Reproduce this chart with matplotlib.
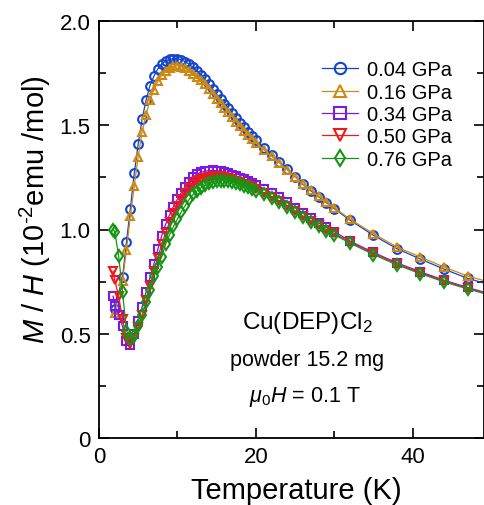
import matplotlib
matplotlib.use('Agg')
import matplotlib.pyplot as plt
from matplotlib.ticker import MultipleLocator, FuncFormatter

plt.rcParams['font.family'] = ['Liberation Sans', 'DejaVu Sans']
plt.rcParams['mathtext.fontset'] = 'custom'
plt.rcParams['mathtext.rm'] = 'Liberation Sans'
plt.rcParams['mathtext.it'] = 'Liberation Sans:italic'

# temperatures (K)
T_hi = [2.0, 3.0, 3.5,
        4.0, 4.5, 5.0, 5.5, 6.0, 6.5, 7.0, 7.5, 8.0, 8.5, 9.0, 9.5, 10.0, 10.5, 11.0, 11.5,
        12.0, 12.5, 13.0, 13.5, 14.0, 14.5, 15.0, 15.5, 16.0, 16.5, 17.0, 17.5, 18.0, 18.5,
        19.0, 19.5, 20.0, 21, 22, 23, 24, 25, 26, 27, 28, 29, 30, 32, 35, 38, 41, 44, 47, 50]
T_lo = [1.8, 2.0, 2.5, 3.0, 3.5,
        4.0, 4.5, 5.0, 5.5, 6.0, 6.5, 7.0, 7.5, 8.0, 8.5, 9.0, 9.5, 10.0, 10.5, 11.0, 11.5,
        12.0, 12.5, 13.0, 13.5, 14.0, 14.5, 15.0, 15.5, 16.0, 16.5, 17.0, 17.5, 18.0, 18.5,
        19.0, 19.5, 20.0, 21, 22, 23, 24, 25, 26, 27, 28, 29, 30, 32, 35, 38, 41, 44, 47, 50]

# M/H (10^-2 emu/mol)
mh_004 = [0.62, 0.77, 0.94,
          1.10, 1.27, 1.41, 1.53, 1.62, 1.69, 1.735, 1.77, 1.795, 1.808, 1.816, 1.82, 1.82,
          1.814, 1.805, 1.792, 1.777, 1.76, 1.741, 1.72, 1.696, 1.672, 1.648, 1.626, 1.604,
          1.581, 1.558, 1.535, 1.512, 1.49, 1.469, 1.448, 1.427,
          1.392, 1.358, 1.324, 1.29, 1.254, 1.216, 1.186, 1.157, 1.129, 1.10,
          1.045, 0.972, 0.908, 0.858, 0.81, 0.766, 0.733]
mh_016 = [0.60, 0.755, 0.90,
          1.065, 1.21, 1.35, 1.47, 1.55, 1.62, 1.67, 1.71, 1.74, 1.76, 1.775, 1.783, 1.785,
          1.781, 1.773, 1.762, 1.748, 1.732, 1.715, 1.696, 1.675, 1.652, 1.628, 1.607, 1.585,
          1.563, 1.54, 1.517, 1.495, 1.474, 1.454, 1.434, 1.415,
          1.383, 1.352, 1.32, 1.287, 1.253, 1.218, 1.19, 1.16, 1.133, 1.105,
          1.05, 0.98, 0.916, 0.868, 0.82, 0.777, 0.745]
mh_034 = [0.68, 0.635, 0.59, 0.535, 0.465,
          0.445, 0.50, 0.56, 0.63, 0.70, 0.77, 0.835, 0.905, 0.97, 1.025, 1.07, 1.11, 1.145,
          1.177, 1.205, 1.23, 1.25, 1.266, 1.274, 1.279, 1.282, 1.283, 1.282, 1.279, 1.275,
          1.27, 1.263, 1.256, 1.248, 1.24, 1.231, 1.222, 1.215,
          1.196, 1.176, 1.155, 1.132, 1.105, 1.078, 1.054, 1.031, 1.01, 0.99,
          0.945, 0.89, 0.84, 0.797, 0.757, 0.722, 0.69]
mh_050 = [0.80, 0.76, 0.68, 0.57, 0.48,
          0.45, 0.48, 0.53, 0.59, 0.66, 0.73, 0.80, 0.865, 0.93, 0.985, 1.035, 1.08, 1.115,
          1.148, 1.176, 1.2, 1.218, 1.232, 1.242, 1.249, 1.253, 1.256, 1.256, 1.255, 1.252,
          1.247, 1.241, 1.235, 1.228, 1.22, 1.212, 1.204, 1.195,
          1.177, 1.158, 1.137, 1.115, 1.09, 1.065, 1.043, 1.021, 1.0, 0.981,
          0.94, 0.885, 0.835, 0.792, 0.753, 0.718, 0.687]
mh_076 = [1.0, 0.99, 0.875, 0.70, 0.515,
          0.475, 0.49, 0.535, 0.59, 0.65, 0.71, 0.775, 0.82, 0.87, 0.93, 0.975, 1.015, 1.05,
          1.085, 1.115, 1.145, 1.168, 1.185, 1.2, 1.212, 1.222, 1.228, 1.232, 1.234, 1.234,
          1.232, 1.228, 1.223, 1.217, 1.21, 1.203, 1.195, 1.187,
          1.17, 1.151, 1.13, 1.108, 1.084, 1.06, 1.037, 1.015, 0.994, 0.975,
          0.935, 0.88, 0.83, 0.788, 0.749, 0.715, 0.684]

series = [
    (T_hi, mh_004, '0.04 GPa', '#1444CC', 'o'),
    (T_hi, mh_016, '0.16 GPa', '#CC8A14', '^'),
    (T_lo, mh_034, '0.34 GPa', '#7A1AE6', 's'),
    (T_lo, mh_050, '0.50 GPa', '#F01818', 'v'),
    (T_lo, mh_076, '0.76 GPa', '#149614', 'd'),
]

fig = plt.figure(figsize=(4.84, 5.06), dpi=100)
ax = fig.add_axes([99 / 484, 67 / 506, 385 / 484, 417 / 506])

for t, m, lab, col, mk in series:
    ax.plot(t, m, color=col, lw=0.9, marker=mk, ms=6.3, mfc='none', mec=col, mew=1.5,
            label=lab)

ax.set_xlim(0, 49.1)
ax.set_ylim(0, 2.0)
ax.xaxis.set_major_locator(MultipleLocator(20))
ax.xaxis.set_minor_locator(MultipleLocator(10))
ax.yaxis.set_major_locator(MultipleLocator(0.5))
ax.yaxis.set_minor_locator(MultipleLocator(0.25))
ax.xaxis.set_major_formatter(FuncFormatter(lambda v, p: '%d' % v))
ax.yaxis.set_major_formatter(FuncFormatter(lambda v, p: '0' if v == 0 else '%.1f' % v))
ax.tick_params(which='both', direction='in', top=True, right=True, width=1.2, labelsize=16)
ax.tick_params(which='major', length=7, pad=6)
ax.tick_params(which='minor', length=5)
for s in ax.spines.values():
    s.set_linewidth(1.3)

ax.set_xlabel('Temperature (K)', fontsize=21)
ax.xaxis.set_label_coords(0.513, -0.125)
ax.xaxis.label.set_va('center')
ax.set_ylabel(r'$M$ / $H$ (10$^{\text{-}2}$emu /mol)', fontsize=21)
ax.yaxis.set_label_coords(-0.166, 0.549)
ax.yaxis.label.set_va('center')

ax.text(0.54, 0.278, r'Cu(DEP)Cl$_2$', transform=ax.transAxes, ha='center', va='center',
        fontsize=17.5)
ax.text(0.54, 0.189, 'powder 15.2 mg', transform=ax.transAxes, ha='center', va='center',
        fontsize=15.5)
ax.text(0.535, 0.10, r'$\mu_0H$ = 0.1 T', transform=ax.transAxes, ha='center', va='center',
        fontsize=15.5)

ax.legend(loc='upper right', bbox_to_anchor=(0.917, 0.906), frameon=False, fontsize=14.5,
          handlelength=1.8, handletextpad=0.45, labelspacing=0.17, markerscale=1.3,
          borderpad=0, borderaxespad=0)

fig.savefig('out.png', dpi=100)
